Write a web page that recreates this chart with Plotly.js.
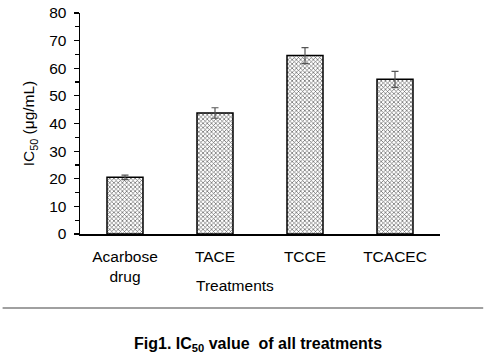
<!DOCTYPE html>
<html>
<head>
<meta charset="utf-8">
<script src="https://cdn.plot.ly/plotly-3.0.1.min.js"></script>
<style>html,body{margin:0;padding:0;background:#fff;}#chart{width:492px;height:359px;}</style>
</head>
<body>
<div id="chart"></div>
<script>
const categories = ["Acarbose<br>drug", "TACE", "TCCE", "TCACEC"];
const ic50 = [20.5, 43.8, 64.6, 56.0];
const errors = [0.8, 1.9, 2.9, 2.9];
const yTicks = [0, 10, 20, 30, 40, 50, 60, 70, 80];

const font = "Liberation Sans, Arial, sans-serif";

const trace = {
  type: "bar",
  x: categories,
  y: ic50,
  width: 0.4,
  marker: {
    color: "#ffffff",
    line: {color: "#000000", width: 1.5},
    pattern: {shape: "x", fgcolor: "#606060", bgcolor: "#ffffff", size: 3, solidity: 0.4}
  },
  error_y: {type: "data", array: errors, visible: true, color: "#555555", thickness: 1.2, width: 3.5}
};

const layout = {
  width: 492, height: 359,
  margin: {l: 80, r: 52, t: 13, b: 125},
  paper_bgcolor: "#ffffff", plot_bgcolor: "#ffffff",
  showlegend: false,
  font: {family: font, size: 15, color: "#000"},
  xaxis: {
    type: "category",
    showline: true, linecolor: "#000", linewidth: 1.5,
    ticks: "", showgrid: false, zeroline: false,
    ticklabelstandoff: 8,
    tickfont: {family: font, size: 15.5, color: "#000"}
  },
  yaxis: {
    range: [0, 80],
    tickvals: yTicks,
    ticktext: yTicks.map(String),
    showline: true, linecolor: "#000", linewidth: 1.5,
    ticks: "outside", ticklen: 5, tickwidth: 1.2, tickcolor: "#000",
    minor: {dtick: 5, ticks: "outside", ticklen: 4, tickwidth: 1.2, tickcolor: "#000", showgrid: false},
    showgrid: false, zeroline: false,
    ticklabelstandoff: 4,
    tickfont: {family: font, size: 15.5, color: "#000"},
    title: {text: "IC<sub>50</sub> (μg/mL)", font: {family: font, size: 15.5, color: "#000"}, standoff: 10}
  },
  annotations: [
    {text: "Treatments", xref: "paper", yref: "paper", x: 0.43, y: -0.232, xanchor: "center", yanchor: "middle", showarrow: false, font: {family: font, size: 15.5, color: "#000"}},
    {text: "<b>Fig1. IC<sub>50</sub> value  of all treatments</b>", xref: "paper", yref: "paper", x: 0.495, y: -0.5, xanchor: "center", yanchor: "middle", showarrow: false, font: {family: font, size: 16, color: "#000"}}
  ],
  shapes: [
    {type: "line", xref: "paper", yref: "paper", x0: -0.215, x1: 1.12, y0: -0.335, y1: -0.335, line: {color: "#808080", width: 1.5}}
  ]
};

Plotly.newPlot("chart", [trace], layout, {displayModeBar: false, staticPlot: true});
</script>
</body>
</html>
